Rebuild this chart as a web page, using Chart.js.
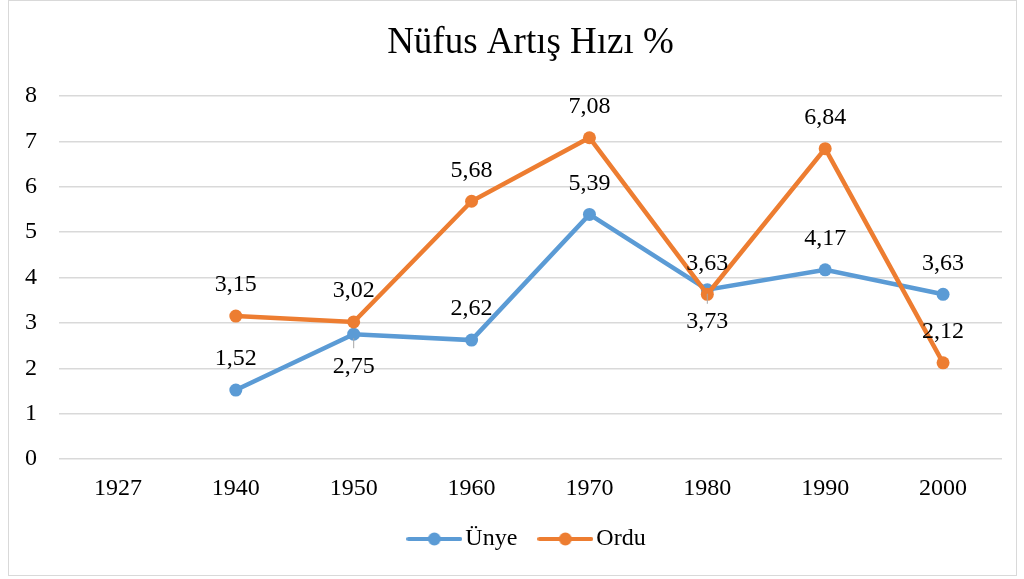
<!DOCTYPE html>
<html>
<head>
<meta charset="utf-8">
<script src="https://cdn.jsdelivr.net/npm/chart.js@4/dist/chart.umd.min.js"></script>
<style>
html,body{margin:0;padding:0;background:#fff;overflow:hidden;width:1024px;height:579px;}
#c{position:absolute;left:9px;top:1px;display:block;}
#box{position:absolute;left:8px;top:0px;width:1007px;height:574px;border:1px solid #d9d9d9;background:transparent;pointer-events:none;}
</style>
</head>
<body>
<canvas id="c" width="1007" height="574"></canvas>
<div id="box"></div>
<script>
const categories = ['1927','1940','1950','1960','1970','1980','1990','2000'];
const unyeValues = [null, 1.52, 2.75, 2.62, 5.39, 3.73, 4.17, 3.63];
const orduValues = [null, 3.15, 3.02, 5.68, 7.08, 3.63, 6.84, 2.12];
const yTicks = [0,1,2,3,4,5,6,7,8];
const unyeLabelSide = ['above','above','below','above','above','below','above','above'];
const orduLabelSide = ['above','above','above','above','above','above','above','above'];

const BLUE = '#5B9BD5', ORANGE = '#ED7D31';
const FONT = "'Liberation Serif','Times New Roman',serif";

// legend icon: line with a dot
function legendIcon(color){
  const c = document.createElement('canvas');
  c.width = 56; c.height = 16;
  const g = c.getContext('2d');
  g.strokeStyle = color; g.lineWidth = 4; g.lineCap = 'round';
  g.beginPath(); g.moveTo(2, 8); g.lineTo(54, 8); g.stroke();
  g.fillStyle = color; g.beginPath(); g.arc(28, 8, 6.5, 0, Math.PI*2); g.fill();
  return c;
}

const labelPlugin = {
  id: 'valueLabels',
  afterDatasetsDraw(chart){
    const ctx = chart.ctx;
    ctx.save();
    ctx.font = "24px " + FONT;
    ctx.fillStyle = '#000';
    ctx.textAlign = 'center';
    ctx.textBaseline = 'middle';
    chart.data.datasets.forEach((ds, di) => {
      const meta = chart.getDatasetMeta(di);
      const sides = ds.labelSide;
      meta.data.forEach((pt, i) => {
        const v = ds.data[i];
        if (v === null || v === undefined) return;
        const below = sides[i] === 'below';
        if (below) {
          ctx.strokeStyle = '#a6a6a6'; ctx.lineWidth = 1;
          ctx.beginPath(); ctx.moveTo(pt.x, pt.y + 4); ctx.lineTo(pt.x, pt.y + 14); ctx.stroke();
        }
        ctx.fillText(v.toFixed(2).replace('.', ','), pt.x, pt.y + (below ? 32 : -31));
      });
    });
    ctx.restore();
  }
};

new Chart(document.getElementById('c'), {
  type: 'line',
  data: {
    labels: categories,
    datasets: [
      { label: 'Ünye', data: unyeValues, labelSide: unyeLabelSide, borderColor: BLUE, backgroundColor: BLUE,
        borderWidth: 4.5, pointRadius: 6.5, pointHoverRadius: 6.5, pointBackgroundColor: BLUE, pointBorderWidth: 0,
        tension: 0, order: 2 },
      { label: 'Ordu', data: orduValues, labelSide: orduLabelSide, borderColor: ORANGE, backgroundColor: ORANGE,
        borderWidth: 4.5, pointRadius: 6.5, pointHoverRadius: 6.5, pointBackgroundColor: ORANGE, pointBorderWidth: 0,
        tension: 0, order: 1 }
    ]
  },
  options: {
    responsive: false,
    animation: false,
    layout: { padding: { left: 0, right: 14, top: 0, bottom: 14 } },
    plugins: {
      title: { display: true, fullSize: false, text: 'Nüfus Artış Hızı %', color: '#000',
        font: { family: FONT, size: 37, weight: 'normal' }, padding: { top: 20, bottom: 30.6 } },
      legend: { position: 'bottom', fullSize: false,
        labels: { color: '#000', font: { family: FONT, size: 24 }, usePointStyle: true, pointStyleWidth: 38, padding: 29,
          generateLabels(chart){
            return chart.data.datasets.map((ds, i) => ({
              text: ds.label, fillStyle: ds.borderColor, strokeStyle: ds.borderColor, fontColor: '#000',
              pointStyle: legendIcon(ds.borderColor), datasetIndex: i, hidden: false, lineWidth: 0
            }));
          }
        } },
      tooltip: { enabled: false }
    },
    scales: {
      x: {
        offset: true,
        afterFit(s){ s.height = 39; },
        grid: { display: false, drawTicks: false },
        border: { display: false },
        ticks: { color: '#000', font: { family: FONT, size: 24 }, padding: 15, maxRotation: 0, autoSkip: false }
      },
      y: {
        min: 0, max: 8,
        afterBuildTicks(s){ s.ticks = yTicks.map(v => ({ value: v })); },
        afterFit(s){ s.width = 50; },
        grid: { color: '#d9d9d9', lineWidth: 1.5, drawTicks: false },
        border: { display: false },
        ticks: { color: '#000', font: { family: FONT, size: 24 }, padding: 22 }
      }
    }
  },
  plugins: [labelPlugin]
});
</script>
</body>
</html>
